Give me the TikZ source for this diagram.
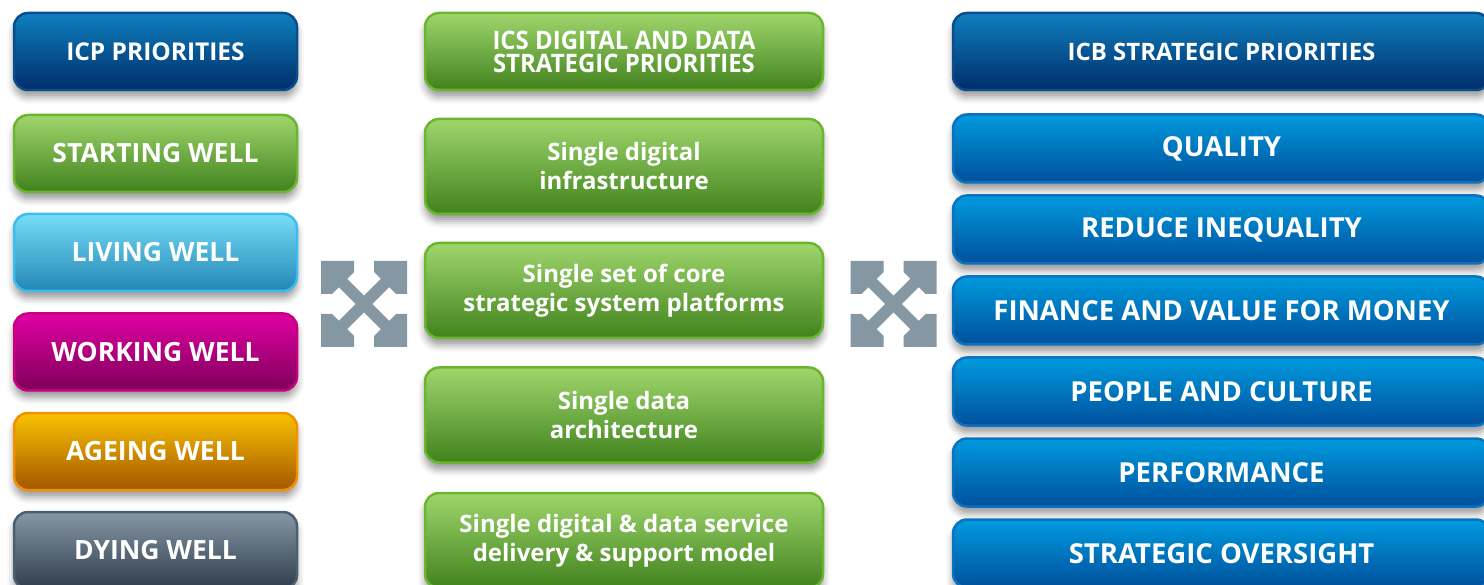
\documentclass[tikz,border=0pt]{standalone}
\usepackage{fontspec}
\setsansfont{Open Sans}
\usetikzlibrary{shadows.blur}
\definecolor{iconcol}{RGB}{134,151,164}
\definecolor{navyT}{HTML}{0E80BE}
\definecolor{navyB}{HTML}{002C6A}
\definecolor{navyD}{HTML}{0A4C8C}
\definecolor{grnT}{HTML}{9FD66C}
\definecolor{grnB}{HTML}{41821D}
\definecolor{grnD}{HTML}{6CB52F}
\definecolor{ltbT}{HTML}{78DDF7}
\definecolor{ltbB}{HTML}{2286B5}
\definecolor{ltbD}{HTML}{3DBDEE}
\definecolor{magT}{HTML}{E000A3}
\definecolor{magB}{HTML}{7E0058}
\definecolor{magD}{HTML}{C8007F}
\definecolor{orgT}{HTML}{F8C200}
\definecolor{orgB}{HTML}{A45600}
\definecolor{orgD}{HTML}{F29100}
\definecolor{gryT}{HTML}{8797A5}
\definecolor{gryB}{HTML}{2F3D4C}
\definecolor{gryD}{HTML}{4A5F72}
\definecolor{rbT}{HTML}{009ADE}
\definecolor{rbB}{HTML}{00509C}
\definecolor{rbD}{HTML}{0B72C0}
\newcommand\myexpandicon[1]{%
  \begin{scope}[shift={#1}]
    \draw[iconcol, line width=12pt] (-32,-32) -- (32,32) (-32,32) -- (32,-32);
    \foreach \sx/\sy in {-1/-1,1/-1,-1/1,1/1}{
      \fill[iconcol] (43*\sx,43*\sy) -- (10*\sx,43*\sy) -- (10*\sx,32*\sy)
        -- (32*\sx,10*\sy) -- (43*\sx,10*\sy) -- cycle;
    }
  \end{scope}}
\begin{document}
\begin{tikzpicture}[x=1pt,y=-1pt,
  boxbase/.style={rounded corners=14pt, line width=2.5pt, text=white, align=center, inner sep=0pt,
    font=\sffamily\bfseries\fontsize{25}{29}\selectfont,
    blur shadow={shadow xshift=0pt, shadow yshift=-7pt, shadow blur radius=7pt, shadow opacity=40}},
  colbox/.style n args={3}{boxbase, top color=#1, bottom color=#2, draw=#3},
  lbox/.style={minimum width=283pt, minimum height=77pt, font=\sffamily\bfseries\fontsize{26.5}{30}\selectfont},
  mbox/.style={minimum width=398pt, minimum height=95pt, font=\sffamily\bfseries\fontsize{24}{29}\selectfont},
  rbox/.style={minimum width=537pt, minimum height=68pt, font=\sffamily\bfseries\fontsize{27.5}{30}\selectfont},
  hbox/.style={minimum height=77pt}]
\useasboundingbox (0,0) rectangle (1484,585);
% left column
\node[colbox={navyT}{navyB}{navyD}, lbox, font=\sffamily\bfseries\fontsize{24.5}{30}\selectfont] (icp) at (155.5,51.5) {ICP PRIORITIES};
\node[colbox={grnT}{grnB}{grnD}, lbox] (start) at (155.5,153.5) {STARTING WELL};
\node[colbox={ltbT}{ltbB}{ltbD}, lbox] (live) at (155.5,252.5) {LIVING WELL};
\node[colbox={magT}{magB}{magD}, lbox] (work) at (155.5,352) {WORKING WELL};
\node[colbox={orgT}{orgB}{orgD}, lbox] (age) at (155.5,451.5) {AGEING WELL};
\node[colbox={gryT}{gryB}{gryD}, lbox] (die) at (155.5,550.5) {DYING WELL};
% middle column
\node[colbox={grnT}{grnB}{grnD}, minimum width=398pt, hbox,
  font=\sffamily\bfseries\fontsize{25.5}{23}\selectfont\addfontfeature{FakeStretch=0.94}] (ics) at (624,51.5)
  {ICS DIGITAL AND DATA\\STRATEGIC PRIORITIES};
\node[colbox={grnT}{grnB}{grnD}, mbox] (infra) at (624,166.5) {Single digital\\infrastructure};
\node[colbox={grnT}{grnB}{grnD}, mbox] (core) at (624,290.5) {Single set of core\\strategic system platforms};
\node[colbox={grnT}{grnB}{grnD}, mbox] (arch) at (624,415) {Single data\\architecture};
\node[colbox={grnT}{grnB}{grnD}, mbox] (serv) at (624,540.5) {Single digital \& data service\\delivery \& support model};
% right column
\node[colbox={navyT}{navyB}{navyD}, minimum width=537pt, hbox, font=\sffamily\bfseries\fontsize{24}{30}\selectfont] (icb) at (1221.5,51.5) {ICB STRATEGIC PRIORITIES};
\node[colbox={rbT}{rbB}{rbD}, rbox] (qual) at (1221.5,148.5) {QUALITY};
\node[colbox={rbT}{rbB}{rbD}, rbox] (ineq) at (1221.5,229.5) {REDUCE INEQUALITY};
\node[colbox={rbT}{rbB}{rbD}, rbox] (fin) at (1221.5,310.5) {FINANCE AND VALUE FOR MONEY};
\node[colbox={rbT}{rbB}{rbD}, rbox] (ppl) at (1221.5,391.5) {PEOPLE AND CULTURE};
\node[colbox={rbT}{rbB}{rbD}, rbox] (perf) at (1221.5,472.5) {PERFORMANCE};
\node[colbox={rbT}{rbB}{rbD}, rbox] (over) at (1221.5,553.5) {STRATEGIC OVERSIGHT};
% expand icons
\myexpandicon{(364,304)}
\myexpandicon{(893.5,304)}
\end{tikzpicture}
\end{document}
